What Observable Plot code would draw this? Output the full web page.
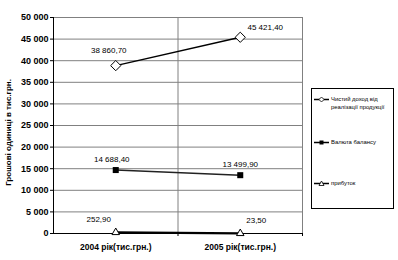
<!DOCTYPE html>
<html>
<head>
<meta charset="utf-8">
<script src="https://cdn.jsdelivr.net/npm/d3@7"></script>
<script src="https://cdn.jsdelivr.net/npm/@observablehq/plot@0.6"></script>
<style>
  html, body { margin: 0; padding: 0; background: #fff; }
  #wrap { position: relative; width: 398px; height: 260px; font-family: "Liberation Sans", Arial, sans-serif; }
  #legend { position: absolute; left: 311px; top: 88px; width: 83px; height: 121px; border: 1px solid #000; box-sizing: border-box; font-size: 5.9px; color: #000; }
  .entry { position: absolute; left: 2px; display: flex; align-items: flex-start; }
  .entry svg { flex: none; }
  .entry span { margin-left: 2px; line-height: 8px; }
</style>
</head>
<body>
<div id="wrap"></div>
<script>
const categories = ["2004 рік(тис.грн.)", "2005 рік(тис.грн.)"];
const seriesNames = ["Чистий доход від реалізації продукції", "Валюта балансу", "прибуток"];
const revenue = [38860.70, 45421.40];
const balance = [14688.40, 13499.90];
const profit = [252.90, 23.50];
const yTicks = [0, 5000, 10000, 15000, 20000, 25000, 30000, 35000, 40000, 45000, 50000];
const yTitle = "Грошові одиниці в тис.грн.";

const values = [revenue, balance, profit];
const rows = [];
values.forEach((arr, s) => arr.forEach((v, i) => rows.push({series: seriesNames[s], s, i, x: i + 0.5, value: v})));

const loc = d3.formatLocale({decimal: ",", thousands: " ", grouping: [3], currency: ["", ""]});
const fmtTick = loc.format(",d");
const fmtVal = loc.format(",.2f");

const sel = (s, i) => rows.filter(d => d.s === s && d.i === i);
const label = (s, i, dx, dy) => Plot.text(sel(s, i), {x: "x", y: "value", text: d => fmtVal(d.value), dx, dy, fontSize: 8, fill: "#000"});

const chart = Plot.plot({
  width: 398,
  height: 260,
  marginLeft: 53,
  marginRight: 96,
  marginTop: 17,
  marginBottom: 27,
  style: {fontFamily: "'Liberation Sans', Arial, sans-serif", background: "#fff"},
  x: {type: "linear", domain: [0, 2]},
  y: {domain: [0, 50000]},
  marks: [
    Plot.gridY(yTicks, {stroke: "#808080", strokeOpacity: 1}),
    Plot.gridX([1], {stroke: "#808080", strokeOpacity: 1}),
    Plot.frame({stroke: "#808080"}),
    Plot.ruleX([0], {stroke: "#000"}),
    Plot.ruleY([0], {stroke: "#000"}),
    Plot.axisY(yTicks, {tickFormat: fmtTick, tickSize: 3, tickPadding: 2, fontSize: 9, fontWeight: "bold", label: null}),
    Plot.text([yTitle], {frameAnchor: "left", textAnchor: "middle", rotate: -90, dx: -45, dy: 7, fontSize: 8, fontWeight: "bold", fill: "#000"}),
    Plot.axisX([1, 2], {tickSize: 3, tickFormat: () => "", label: null}),
    Plot.axisX([0.5, 1.5], {tickSize: 0, tickPadding: 10, tickFormat: d => categories[Math.floor(d)], fontSize: 8.5, fontWeight: "bold", label: null}),
    Plot.line(rows.filter(d => d.s === 0), {x: "x", y: "value", stroke: "#000", strokeWidth: 1.5}),
    Plot.line(rows.filter(d => d.s === 1), {x: "x", y: "value", stroke: "#222", strokeWidth: 1.5}),
    Plot.line(rows.filter(d => d.s === 2), {x: "x", y: "value", stroke: "#000", strokeWidth: 2.2}),
    Plot.dot(rows.filter(d => d.s === 0), {x: "x", y: "value", symbol: "diamond2", r: 4.6, fill: "#fff", stroke: "#000", strokeWidth: 1}),
    Plot.dot(rows.filter(d => d.s === 1), {x: "x", y: "value", symbol: "square", r: 3.4, fill: "#000", stroke: "none"}),
    Plot.dot(rows.filter(d => d.s === 2), {x: "x", y: "value", symbol: "triangle2", r: 3.6, fill: "#fff", stroke: "#000", strokeWidth: 1}),
    label(0, 0, -7, -15),
    label(0, 1, 25, -10),
    label(1, 0, -4, -11),
    label(1, 1, 0, -11),
    label(2, 0, -17, -13),
    label(2, 1, 16, -13)
  ]
});
const wrap = document.getElementById("wrap");
wrap.appendChild(chart);

// legend
const legend = document.createElement("div");
legend.id = "legend";
const sym = [
  '<polygon points="7.5,1 10,3.5 7.5,6 5,3.5" fill="#fff" stroke="#000" stroke-width="0.8"/>',
  '<rect x="5.5" y="1.5" width="4" height="4" fill="#000"/>',
  '<polygon points="7.5,1 10,5.5 5,5.5" fill="#fff" stroke="#000" stroke-width="0.8"/>'
];
const tops = [6, 49, 90];
const texts = ["Чистий доход від<br>реалізації продукції", seriesNames[1], seriesNames[2]];
seriesNames.forEach((name, k) => {
  const e = document.createElement("div");
  e.className = "entry";
  e.style.top = tops[k] + "px";
  e.innerHTML = '<svg width="15" height="7" style="margin-top:0.5px"><line x1="0" y1="3.5" x2="15" y2="3.5" stroke="#000" stroke-width="1.5"/>' + sym[k] + '</svg><span>' + texts[k] + '</span>';
  legend.appendChild(e);
});
wrap.appendChild(legend);
</script>
</body>
</html>
